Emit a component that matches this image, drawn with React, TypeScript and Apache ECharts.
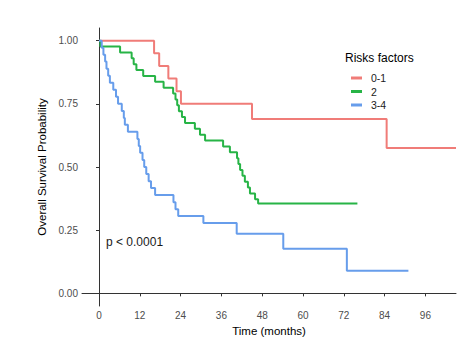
import React, { useEffect, useRef } from "react";
import * as echarts from "echarts";

const groupNames = ["0-1", "2", "3-4"];
const groupColors = ["#F07C78", "#27B446", "#679DEB"];

const redTimes = [0, 16.2, 17.7, 20.4, 22.8, 24.1, 45.0, 84.6, 105];
const redSurv = [1, 0.95, 0.9, 0.85, 0.8, 0.75, 0.69, 0.575, 0.575];

const greenTimes = [0, 0.4, 6.2, 9.6, 10.2, 11.0, 13.0, 16.5, 19.0, 21.8, 22.5, 23.0, 23.5, 24.4, 25.3, 28.2, 29.7, 31.2, 36.5, 38.5, 40.6, 41.0, 41.5, 42.2, 42.9, 43.8, 44.4, 45.9, 46.8, 76];
const greenSurv = [1, 0.977, 0.953, 0.93, 0.907, 0.884, 0.86, 0.837, 0.814, 0.791, 0.767, 0.744, 0.721, 0.698, 0.674, 0.651, 0.628, 0.605, 0.581, 0.558, 0.535, 0.512, 0.488, 0.465, 0.442, 0.419, 0.395, 0.372, 0.356, 0.356];

const blueTimes = [0, 0.8, 1.3, 1.8, 2.2, 2.7, 3.2, 4.2, 5.0, 5.6, 6.7, 7.3, 7.6, 8.5, 11.3, 11.7, 12.1, 12.8, 13.3, 13.9, 14.6, 15.3, 16.5, 21.9, 22.5, 23.3, 30.7, 40.5, 54.2, 72.9, 91];
const blueSurv = [1, 0.972, 0.944, 0.917, 0.889, 0.861, 0.833, 0.806, 0.778, 0.75, 0.722, 0.694, 0.667, 0.639, 0.611, 0.583, 0.556, 0.528, 0.5, 0.472, 0.444, 0.417, 0.389, 0.361, 0.333, 0.306, 0.278, 0.236, 0.177, 0.089, 0.089];

const xTicks = [0, 12, 24, 36, 48, 60, 72, 84, 96];
const yTicks = [0, 0.25, 0.5, 0.75, 1];

const legendTitle = "Risks factors";
const pText = "p < 0.0001";
const xTitle = "Time (months)";
const yTitle = "Overall Survival Probability";

const FONT = "Liberation Sans, Arial, sans-serif";

export default function App() {
  const ref = useRef<HTMLDivElement>(null);
  useEffect(() => {
    if (!ref.current) return;
    const chart = echarts.init(ref.current, undefined, { renderer: "svg" });
    const groups = [
      [redTimes, redSurv],
      [greenTimes, greenSurv],
      [blueTimes, blueSurv],
    ];
    const series = groups.map(([t, s], i) => ({
      name: groupNames[i],
      type: "line",
      step: "end",
      data: t.map((tt, j) => [tt, s[j]]),
      showSymbol: false,
      symbol: "none",
      lineStyle: { color: groupColors[i], width: 2 },
      itemStyle: { color: groupColors[i] },
    }));
    chart.setOption({
      animation: false,
      backgroundColor: "#ffffff",
      textStyle: { fontFamily: FONT },
      grid: { left: 82, right: 20, top: 28, bottom: 41, containLabel: false },
      xAxis: {
        type: "value",
        min: -5,
        max: 105,
        name: xTitle,
        nameLocation: "middle",
        nameGap: 15,
        nameTextStyle: { color: "#000", fontSize: 11.5, fontFamily: FONT },
        axisLine: { lineStyle: { color: "#333", width: 1 } },
        axisTick: { show: true, length: 3, customValues: xTicks, lineStyle: { color: "#333" } },
        axisLabel: { customValues: xTicks, color: "#4d4d4d", fontSize: 10, margin: 4, fontFamily: FONT },
        splitLine: { show: false },
      },
      yAxis: {
        type: "value",
        min: -0.05,
        max: 1.05,
        name: yTitle,
        nameLocation: "middle",
        nameGap: 29,
        nameTextStyle: { color: "#000", fontSize: 11.5, fontFamily: FONT },
        axisLine: { show: true, lineStyle: { color: "#333", width: 1 } },
        axisTick: { show: true, length: 3, customValues: yTicks, lineStyle: { color: "#333" } },
        axisLabel: {
          customValues: yTicks,
          color: "#4d4d4d",
          fontSize: 10,
          margin: 4,
          fontFamily: FONT,
          formatter: (v: number) => v.toFixed(2),
        },
        splitLine: { show: false },
      },
      legend: {
        orient: "vertical",
        left: 346,
        top: 67,
        itemWidth: 11,
        itemHeight: 3,
        itemGap: 1.5,
        icon: "rect",
        data: groupNames,
        textStyle: { color: "#1a1a1a", fontSize: 10.5, fontFamily: FONT, lineHeight: 12, padding: [0, 0, 0, 4] },
      },
      graphic: [
        {
          type: "text",
          left: 345,
          top: 52,
          style: { text: legendTitle, fill: "#000", font: `12px ${FONT}` },
        },
        {
          type: "text",
          left: 106,
          top: 236,
          style: { text: pText, fill: "#1a1a1a", font: `12px ${FONT}` },
        },
      ],
      series,
    });
    return () => chart.dispose();
  }, []);
  return (
    <div
      ref={ref}
      style={{ position: "fixed", left: 0, top: 0, width: 476, height: 347, background: "#fff" }}
    />
  );
}
